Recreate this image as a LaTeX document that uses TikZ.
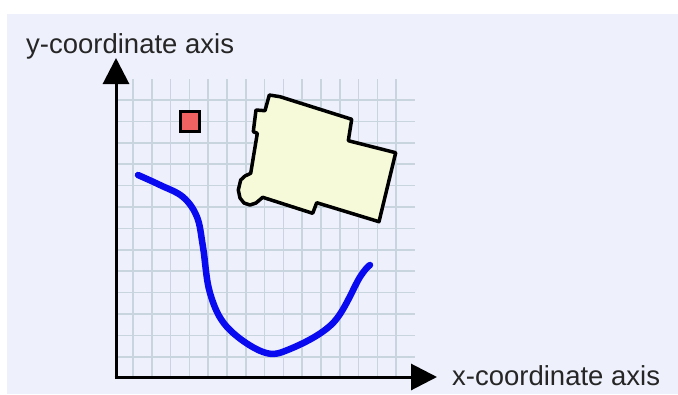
\documentclass[tikz,border=0pt]{standalone}
\usepackage{fontspec}
\setmainfont{Liberation Sans}
\usetikzlibrary{arrows.meta}
\definecolor{bgc}{HTML}{EEF0FB}
\definecolor{gridc}{HTML}{C9D5DE}
\definecolor{redsq}{HTML}{F06262}
\definecolor{bldg}{HTML}{F6FAD8}
\definecolor{curvec}{HTML}{0A0AF0}
\tikzset{
  gridline/.style={draw=gridc, line width=1.7pt},
  axisline/.style={draw=black, line width=3pt, -{Triangle[width=26pt,length=26pt]}},
  axislabel/.style={anchor=base west, inner sep=0pt, font=\fontsize{27.5}{30}\selectfont, text=black!85},
  shapeline/.style={draw=black, line width=3.5pt, line join=round},
}
\begin{document}
\begin{tikzpicture}[x=1pt,y=-1pt]
\useasboundingbox (0,0) rectangle (678,394);
\fill[white] (0,0) rectangle (678,394);
\fill[bgc] (7,14) rectangle (678,394);
% grid
\foreach \k in {0,...,14} {
  \draw[gridline] ({133+18.8*\k},79) -- ({133+18.8*\k},377);
}
\foreach \k in {0,...,12} {
  \draw[gridline] (116,{100+21.4*\k}) -- (415,{100+21.4*\k});
}
% axes
\coordinate (o) at (116,377);
\coordinate (ytip) at (116,58);
\coordinate (xtip) at (437,377);
\draw[axisline] ([yshift=-1.5pt]o) -- (ytip);
\draw[axisline] ([xshift=-1.5pt]o) -- (xtip);
\node[axislabel] (ylab) at (26,53) {y-coordinate axis};
\node[axislabel] (xlab) at (452,385) {x-coordinate axis};
% red square
\draw[shapeline, line width=3pt, fill=redsq, line join=miter] (180,111) rectangle (199,131);
% building
\draw[shapeline, fill=bldg] (269.3,95) -- (280,96.7) -- (351.7,119.3) -- (348.3,140.7)
  -- (395.7,152.7) -- (379,221.7) -- (316.7,202.7) -- (312.7,213.3) -- (262.7,197.3)
  -- (256,203) -- (250,205) -- (244,203) -- (240,198) -- (238.3,190) -- (240.7,180)
  -- (245,176) -- (250.7,173.3) -- (257.3,133.3) -- (253.3,131.7) -- (256,110)
  -- (265,110.7) -- cycle;
% curve
\draw[curvec, line width=6.5pt, line cap=round, line join=round]
  plot[smooth, tension=0.6] coordinates {(138,175) (160,185) (183,197) (197,217)
  (203,247) (210,293) (227,327) (263,352) (290,349) (333,323) (360,277) (370,265)};
\end{tikzpicture}
\end{document}
